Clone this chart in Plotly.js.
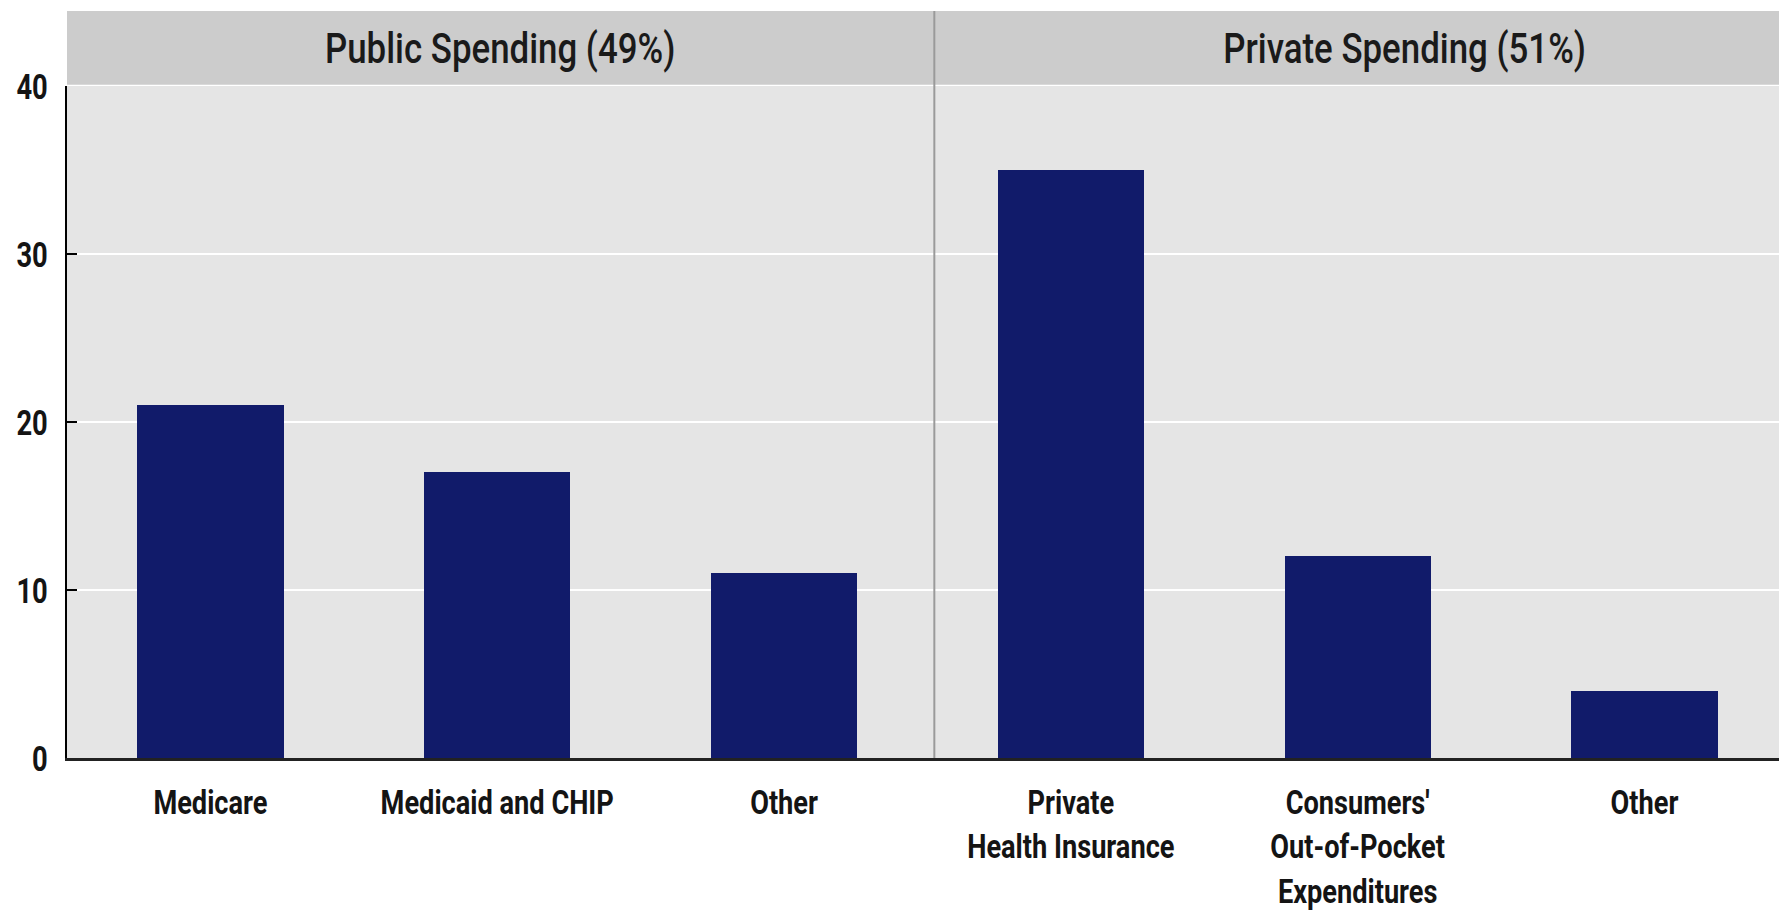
<!DOCTYPE html>
<html>
<head>
<meta charset="utf-8">
<script src="https://cdn.plot.ly/plotly-3.0.1.min.js"></script>
<style>
html,body{margin:0;padding:0;background:#fff;}
#chart{width:1779px;height:913px;}
</style>
</head>
<body>
<div id="chart"></div>
<script>
// Data
const categories = ["Medicare", "Medicaid and CHIP", "Other", "Private<br>Health Insurance", "Consumers'<br>Out-of-Pocket<br>Expenditures", "Other"];
const values = [21, 17, 11, 35, 12, 4];
const panelTitles = ["Public Spending (49%)", "Private Spending (51%)"];
const yTicks = [0, 10, 20, 30, 40];

const positions = categories.map((c, i) => i);
const FONT = 'Roboto, "Liberation Sans", sans-serif';
const SQUEEZE_X = 0.80;
const SQUEEZE_Y = 0.76;
const SQUEEZE_TITLES = 0.83;

const trace = {
  type: 'bar',
  x: positions,
  y: values,
  width: 0.51,
  marker: {color: '#111b6a', line: {width: 0}},
  hoverinfo: 'x+y'
};

const stripTop = 1 + (86 - 11) / 672;

const layout = {
  width: 1779,
  height: 913,
  margin: {l: 67, r: 0, t: 86, b: 155},
  paper_bgcolor: '#ffffff',
  plot_bgcolor: '#e5e5e5',
  showlegend: false,
  bargap: 0,
  xaxis: {
    range: [-0.5, 5.469],
    tickmode: 'array',
    tickvals: positions,
    ticktext: categories,
    showgrid: false,
    zeroline: false,
    showline: true,
    linecolor: '#222222',
    linewidth: 2.5,
    ticks: '',
    ticklabelstandoff: 13,
    tickfont: {family: FONT, size: 34, color: '#141414', weight: 'bold'},
    fixedrange: true
  },
  yaxis: {
    range: [0, 40],
    tickmode: 'array',
    tickvals: yTicks,
    ticktext: yTicks.map(String),
    showgrid: true,
    gridcolor: '#ffffff',
    gridwidth: 2,
    zeroline: false,
    showline: true,
    linecolor: '#000000',
    linewidth: 2,
    ticks: 'inside',
    ticklen: 10,
    tickwidth: 2,
    tickcolor: '#000000',
    ticklabelstandoff: 10,
    tickfont: {family: FONT, size: 36, color: '#141414', weight: 'bold'},
    fixedrange: true
  },
  shapes: [
    {type: 'rect', xref: 'paper', yref: 'paper', x0: 0, x1: 1, y0: 1.002, y1: stripTop,
     fillcolor: '#cccccc', line: {width: 0}, layer: 'below'},
    {type: 'line', xref: 'x', yref: 'paper', x0: 2.524, x1: 2.524, y0: 0, y1: stripTop,
     line: {color: '#9a9a9a', width: 2}, layer: 'above'}
  ],
  annotations: [
    {xref: 'x', yref: 'paper', x: 1.01, y: (1 + stripTop) / 2, text: panelTitles[0],
     showarrow: false, xanchor: 'center', yanchor: 'middle',
     font: {family: FONT, size: 42, color: '#1a1a1a', weight: 500}},
    {xref: 'x', yref: 'paper', x: 4.165, y: (1 + stripTop) / 2, text: panelTitles[1],
     showarrow: false, xanchor: 'center', yanchor: 'middle',
     font: {family: FONT, size: 42, color: '#1a1a1a', weight: 500}}
  ]
};

// Narrow the lettering horizontally (the reference uses a condensed face)
function squeeze(selector, s) {
  document.querySelectorAll(selector).forEach(function (t) {
    const x = parseFloat(t.getAttribute('x')) || 0;
    const tr = t.getAttribute('transform') || '';
    t.setAttribute('transform', tr + ' translate(' + x + ',0) scale(' + s + ',1) translate(' + (-x) + ',0)');
  });
}

Plotly.newPlot('chart', [trace], layout, {displayModeBar: false, staticPlot: true}).then(function () {
  squeeze('#chart .xtick text', SQUEEZE_X);
  squeeze('#chart .ytick text', SQUEEZE_Y);
  squeeze('#chart .annotation-text', SQUEEZE_TITLES);
});
</script>
</body>
</html>
